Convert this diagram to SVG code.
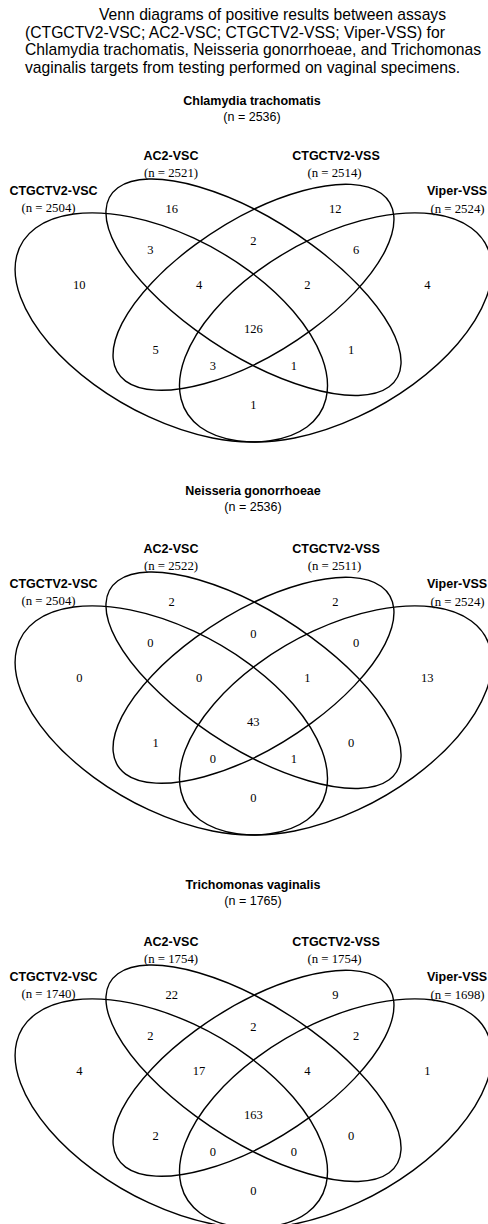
<svg xmlns="http://www.w3.org/2000/svg" width="488" height="1224" viewBox="0 0 488 1224">
<style>
.bg{fill:#fff}
.set{fill:none;stroke:#000;stroke-width:1.4;vector-effect:non-scaling-stroke}
.cap{font-family:"Liberation Sans",Arial,sans-serif;font-size:15.7px;fill:#000}
.ttl{font-family:"Liberation Sans",Arial,sans-serif;font-size:12.5px;font-weight:bold;fill:#000;text-anchor:middle}
.tn{font-family:"Liberation Sans",Arial,sans-serif;font-size:12.5px;fill:#000;text-anchor:middle}
.lab{font-family:"Liberation Sans",Arial,sans-serif;font-size:12.5px;font-weight:bold;fill:#000;text-anchor:middle}
.n{font-family:"Liberation Serif","Times New Roman",serif;font-size:12.8px;fill:#000;text-anchor:middle}
.v{font-family:"Liberation Serif","Times New Roman",serif;font-size:12.5px;fill:#000;text-anchor:middle}
</style>
<rect class="bg" x="0" y="0" width="488" height="1224"/>
<g id="caption">
<text class="cap" x="99" y="20">Venn diagrams of positive results between assays</text>
<text class="cap" x="25" y="38">(CTGCTV2-VSC; AC2-VSC; CTGCTV2-VSS; Viper-VSS) for</text>
<text class="cap" x="25" y="55">Chlamydia trachomatis, Neisseria gonorrhoeae, and Trichomonas</text>
<text class="cap" x="25" y="73">vaginalis targets from testing performed on vaginal specimens.</text>
</g>

<!-- Chlamydia trachomatis -->
<g id="ct">
<g id="ct-title"><text class="ttl" x="252" y="104.5">Chlamydia trachomatis</text><text class="tn" x="252" y="121">(n = 2536)</text></g>
<g transform="translate(-20.5 516.4) scale(548 -402)">
<g id="ct-ctgctv2-vsc"><ellipse class="set" rx="0.35" ry="0.2" transform="translate(0.35 0.47) rotate(135)"/></g>
<g id="ct-ac2-vsc"><ellipse class="set" rx="0.35" ry="0.15" transform="translate(0.5 0.57) rotate(135)"/></g>
<g id="ct-ctgctv2-vss"><ellipse class="set" rx="0.33" ry="0.15" transform="translate(0.5 0.57) rotate(45)"/></g>
<g id="ct-viper-vss"><ellipse class="set" rx="0.35" ry="0.2" transform="translate(0.65 0.47) rotate(45)"/></g>
</g>
<g id="ct-labels">
<text class="lab" x="171" y="159.5">AC2-VSC</text><text class="n" x="171" y="176.5">(n = 2521)</text>
<text class="lab" x="336" y="159.5">CTGCTV2-VSS</text><text class="n" x="334.5" y="176.5">(n = 2514)</text>
<text class="lab" x="53.5" y="195">CTGCTV2-VSC</text><text class="n" x="48.5" y="211.5">(n = 2504)</text>
<text class="lab" x="427" y="195" style="text-anchor:start">Viper-VSS</text><text class="n" x="457.5" y="212.5">(n = 2524)</text>
</g>
<g id="ct-values">
<text class="v" x="171.7" y="213.2">16</text><text class="v" x="335.3" y="213.2">12</text>
<text class="v" x="150.3" y="253.5">3</text><text class="v" x="253.3" y="245.2">2</text><text class="v" x="356.2" y="253.5">6</text>
<text class="v" x="79.3" y="289.2">10</text><text class="v" x="199" y="289.2">4</text><text class="v" x="307.3" y="289.2">2</text><text class="v" x="427.3" y="289.2">4</text>
<text class="v" x="253.3" y="333.2">126</text>
<text class="v" x="155.5" y="353.7">5</text><text class="v" x="351" y="353.7">1</text>
<text class="v" x="212.8" y="369.7">3</text><text class="v" x="293.8" y="369.7">1</text>
<text class="v" x="253.3" y="409.2">1</text>
</g>
</g>

<!-- Neisseria gonorrhoeae -->
<g id="ng">
<g id="ng-title"><text class="ttl" x="253" y="494.5">Neisseria gonorrhoeae</text><text class="tn" x="253" y="511">(n = 2536)</text></g>
<g transform="translate(0 393)">
<g transform="translate(-20.5 516.4) scale(548 -402)">
<g id="ng-ctgctv2-vsc"><ellipse class="set" rx="0.35" ry="0.2" transform="translate(0.35 0.47) rotate(135)"/></g>
<g id="ng-ac2-vsc"><ellipse class="set" rx="0.35" ry="0.15" transform="translate(0.5 0.57) rotate(135)"/></g>
<g id="ng-ctgctv2-vss"><ellipse class="set" rx="0.33" ry="0.15" transform="translate(0.5 0.57) rotate(45)"/></g>
<g id="ng-viper-vss"><ellipse class="set" rx="0.35" ry="0.2" transform="translate(0.65 0.47) rotate(45)"/></g>
</g>
<g id="ng-labels">
<text class="lab" x="171" y="159.5">AC2-VSC</text><text class="n" x="171" y="176.5">(n = 2522)</text>
<text class="lab" x="336" y="159.5">CTGCTV2-VSS</text><text class="n" x="334.5" y="176.5">(n = 2511)</text>
<text class="lab" x="53.5" y="195">CTGCTV2-VSC</text><text class="n" x="48.5" y="211.5">(n = 2504)</text>
<text class="lab" x="427" y="195" style="text-anchor:start">Viper-VSS</text><text class="n" x="457.5" y="212.5">(n = 2524)</text>
</g>
<g id="ng-values">
<text class="v" x="171.7" y="213.2">2</text><text class="v" x="335.3" y="213.2">2</text>
<text class="v" x="150.3" y="253.5">0</text><text class="v" x="253.3" y="245.2">0</text><text class="v" x="356.2" y="253.5">0</text>
<text class="v" x="79.3" y="289.2">0</text><text class="v" x="199" y="289.2">0</text><text class="v" x="307.3" y="289.2">1</text><text class="v" x="427.3" y="289.2">13</text>
<text class="v" x="253.3" y="333.2">43</text>
<text class="v" x="155.5" y="353.7">1</text><text class="v" x="351" y="353.7">0</text>
<text class="v" x="212.8" y="369.7">0</text><text class="v" x="293.8" y="369.7">1</text>
<text class="v" x="253.3" y="409.2">0</text>
</g>
</g>
</g>

<!-- Trichomonas vaginalis -->
<g id="tv">
<g id="tv-title"><text class="ttl" x="253" y="888.5">Trichomonas vaginalis</text><text class="tn" x="253" y="905">(n = 1765)</text></g>
<g transform="translate(0 786)">
<g transform="translate(-20.5 516.4) scale(548 -402)">
<g id="tv-ctgctv2-vsc"><ellipse class="set" rx="0.35" ry="0.2" transform="translate(0.35 0.47) rotate(135)"/></g>
<g id="tv-ac2-vsc"><ellipse class="set" rx="0.35" ry="0.15" transform="translate(0.5 0.57) rotate(135)"/></g>
<g id="tv-ctgctv2-vss"><ellipse class="set" rx="0.33" ry="0.15" transform="translate(0.5 0.57) rotate(45)"/></g>
<g id="tv-viper-vss"><ellipse class="set" rx="0.35" ry="0.2" transform="translate(0.65 0.47) rotate(45)"/></g>
</g>
<g id="tv-labels">
<text class="lab" x="171" y="159.5">AC2-VSC</text><text class="n" x="171" y="176.5">(n = 1754)</text>
<text class="lab" x="336" y="159.5">CTGCTV2-VSS</text><text class="n" x="334.5" y="176.5">(n = 1754)</text>
<text class="lab" x="53.5" y="195">CTGCTV2-VSC</text><text class="n" x="48.5" y="211.5">(n = 1740)</text>
<text class="lab" x="427" y="195" style="text-anchor:start">Viper-VSS</text><text class="n" x="457.5" y="212.5">(n = 1698)</text>
</g>
<g id="tv-values">
<text class="v" x="171.7" y="213.2">22</text><text class="v" x="335.3" y="213.2">9</text>
<text class="v" x="150.3" y="253.5">2</text><text class="v" x="253.3" y="245.2">2</text><text class="v" x="356.2" y="253.5">2</text>
<text class="v" x="79.3" y="289.2">4</text><text class="v" x="199" y="289.2">17</text><text class="v" x="307.3" y="289.2">4</text><text class="v" x="427.3" y="289.2">1</text>
<text class="v" x="253.3" y="333.2">163</text>
<text class="v" x="155.5" y="353.7">2</text><text class="v" x="351" y="353.7">0</text>
<text class="v" x="212.8" y="369.7">0</text><text class="v" x="293.8" y="369.7">0</text>
<text class="v" x="253.3" y="409.2">0</text>
</g>
</g>
</g>
</svg>
